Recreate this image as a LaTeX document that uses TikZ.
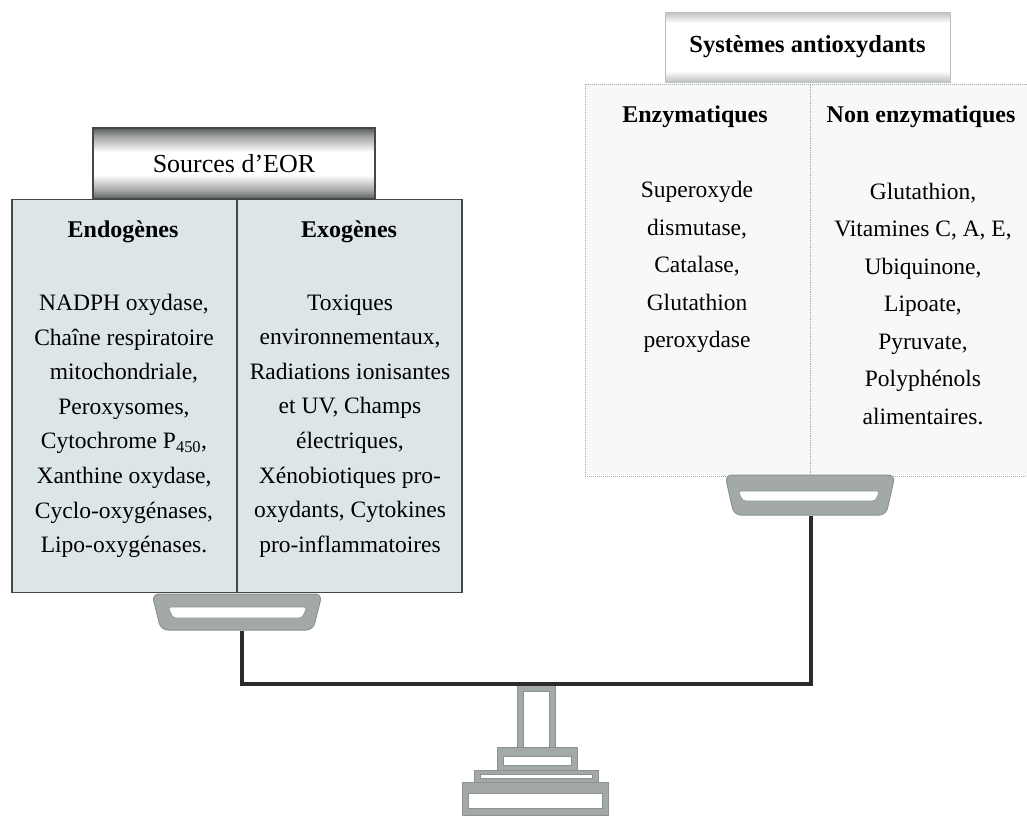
\documentclass[tikz,border=0pt]{standalone}
\usepackage{fontspec}
\setmainfont{Liberation Serif}
\definecolor{leftfill}{RGB}{220,229,231}
\definecolor{rightfill}{RGB}{247,249,249}
\definecolor{darkedge}{RGB}{70,72,72}
\definecolor{lightedge}{RGB}{165,168,168}
\definecolor{titledark}{RGB}{88,92,92}
\definecolor{titlelight}{RGB}{190,193,193}
\definecolor{pangrey}{RGB}{163,168,168}
\definecolor{panedge}{RGB}{140,145,145}
\definecolor{beam}{RGB}{43,43,43}
\pgfdeclareverticalshading{lefttitleshade}{100bp}{color(0bp)=(titledark); color(25bp)=(titledark); color(31bp)=(titledark!55!white); color(42bp)=(white); color(58bp)=(white); color(69bp)=(titledark!55!white); color(75bp)=(titledark); color(100bp)=(titledark)}
\pgfdeclareverticalshading{righttitleshade}{100bp}{color(0bp)=(titlelight); color(25bp)=(titlelight); color(33bp)=(white); color(67bp)=(white); color(75bp)=(titlelight); color(100bp)=(titlelight)}
\tikzset{
  bodytext/.style={align=center, inner sep=0pt, font=\fontsize{23.5}{34.6}\selectfont},
  bodytextr/.style={align=center, inner sep=0pt, font=\fontsize{23.5}{37.5}\selectfont},
  headtext/.style={inner sep=0pt, font=\fontsize{24}{28}\selectfont\bfseries},
  pan/.style={fill=pangrey, draw=panedge, line width=1pt},
  slot/.style={fill=white, draw=panedge, line width=0.6pt},
  beamline/.style={draw=beam, line width=3.6pt},
}
\begin{document}
\begin{tikzpicture}[x=1pt,y=-1pt]
\useasboundingbox (0,0) rectangle (1027,815);

% main boxes
\node[draw=darkedge, line width=1.3pt, fill=leftfill, minimum width=450pt, minimum height=393pt, inner sep=0pt] (lbox) at (237,396) {};
\draw[darkedge, line width=1.1pt] (lbox.north) -- (lbox.south);
\node[draw=lightedge, densely dotted, line width=1pt, fill=rightfill, minimum width=450pt, minimum height=392pt, inner sep=0pt] (rbox) at (810,280) {};
\draw[lightedge, densely dotted, line width=0.8pt] (rbox.north) -- (rbox.south);

% title boxes
\node[draw=darkedge, line width=1.2pt, shade, shading=lefttitleshade, minimum width=282pt, minimum height=71pt, inner sep=0pt, font=\fontsize{26}{30}\selectfont] (ltitle) at (234,163.5) {Sources d’EOR};
\node[draw=titlelight, line width=1pt, shade, shading=righttitleshade, minimum width=285pt, minimum height=70pt, inner sep=0pt, font=\fontsize{24.5}{30}\selectfont\bfseries] (rtitle) at (807.5,47) {Systèmes antioxydants};

% headers
\node[headtext] (endo) at (123,232) {Endogènes};
\node[headtext] (exo) at (349,232) {Exogènes};
\node[headtext] (enz) at (695,117) {Enzymatiques};
\node[headtext] (nenz) at (921,117) {Non enzymatiques};

% body texts
\node[bodytext] (endotxt) at (124,426) {NADPH oxydase,\\ Chaîne respiratoire\\ mitochondriale,\\ Peroxysomes,\\ Cytochrome P\textsubscript{450},\\ Xanthine oxydase,\\ Cyclo-oxygénases,\\ Lipo-oxygénases.};
\node[bodytext] (exotxt) at (350,426) {Toxiques\\ environnementaux,\\ Radiations ionisantes\\ et UV, Champs\\ électriques,\\ Xénobiotiques pro-\\ oxydants, Cytokines\\ pro-inflammatoires};
\node[bodytextr] (enztxt) at (697,267) {Superoxyde\\ dismutase,\\ Catalase,\\ Glutathion\\ peroxydase};
\node[bodytextr] (nenztxt) at (923,304) {Glutathion,\\ Vitamines C, A, E,\\ Ubiquinone,\\ Lipoate,\\ Pyruvate,\\ Polyphénols\\ alimentaires.};

% scale pans
\draw[pan, rounded corners=7pt] (152,594) -- (322,594) -- (313,630) -- (161,630) -- cycle;
\draw[slot, rounded corners=3pt] (168,607) -- (307,607) -- (302,618) -- (173,618) -- cycle;
\draw[pan, rounded corners=7pt] (725,475) -- (895,475) -- (886,515) -- (734,515) -- cycle;
\draw[slot, rounded corners=3pt] (738,491) -- (880,491) -- (875,501) -- (743,501) -- cycle;

% stand
\draw[pan] (517,684) rectangle (555,747);
\draw[slot] (523,691) rectangle (549,747);
\draw[pan] (497,747) rectangle (577,770);
\draw[slot] (503,756) rectangle (571,765);
\draw[pan] (474,770) rectangle (598,782);
\draw[slot] (480,774) rectangle (592,778);
\draw[pan] (462,782) rectangle (608,815);
\draw[slot] (468,793) rectangle (602,808);

% beam connectors
\coordinate (lpan) at (242,631);
\coordinate (rpan) at (811,516);
\coordinate (standtop) at (536,684);
\draw[beamline] (lpan) -- (lpan |- standtop) -- (rpan |- standtop) -- (rpan);
\end{tikzpicture}
\end{document}
